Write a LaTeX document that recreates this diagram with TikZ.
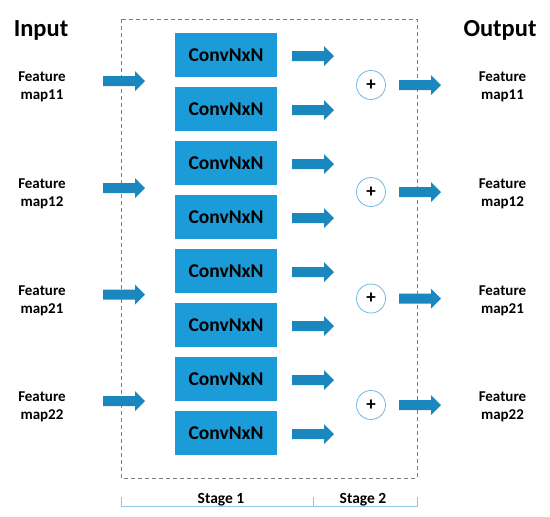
\documentclass[tikz,border=0pt]{standalone}
\usepackage{fontspec}
\setmainfont{Carlito}
\begin{document}
\begin{tikzpicture}[x=1pt,y=-1pt,
  convbox/.style={rectangle, fill={rgb,255:red,27;green,155;blue,215}, minimum width=102pt, minimum height=44pt, inner sep=0pt, font=\fontsize{19.5}{22}\selectfont\bfseries},
  lbl/.style={align=center, inner sep=0pt, font=\fontsize{15}{18.3}\selectfont\bfseries},
  title/.style={inner sep=0pt, anchor=base, font=\fontsize{24.5}{28}\selectfont\bfseries},
  stagelbl/.style={inner sep=0pt, anchor=base, font=\fontsize{15.5}{18}\selectfont\bfseries},
  plusnode/.style={circle, draw={rgb,255:red,110;green,185;blue,228}, line width=0.8pt, fill=white, minimum size=29pt, inner sep=0pt, font=\fontsize{19}{20}\selectfont\bfseries},
  barrow/.pic={\fill[fill={rgb,255:red,26;green,135;blue,191}] (0,-5) -- (32,-5) -- (32,-10) -- (42,0) -- (32,10) -- (32,5) -- (0,5) -- cycle;},
  bracket/.style={draw={rgb,255:red,140;green,198;blue,236}, line width=0.9pt}
]
\useasboundingbox (0,0) rectangle (550,517);
\fill[white] (0,0) rectangle (550,517);

% dashed frame
\draw[draw={rgb,255:red,125;green,125;blue,125}, line width=0.8pt, dash pattern=on 4pt off 3pt] (121,19) rectangle (417,478);

% titles
\node[title] (input) at (41,36) {Input};
\node[title] (output) at (500,36) {Output};

% conv boxes and their arrows
\foreach \i in {0,...,7}{
  \pgfmathsetmacro{\yy}{55+54*\i}
  \node[convbox] (conv\i) at (226,\yy) {ConvNxN};
  \pic (carrow\i) at (292,\yy+1) {barrow};
}

% plus nodes, input/output arrows and labels
\foreach \j/\yc/\name in {0/85/map11, 1/192/map12, 2/298.5/map21, 3/405/map22}{
  \node[plusnode] (plus\j) at (371,\yc) {+};
  \pic (inarrow\j) at (103,\yc-4) {barrow};
  \pic (outarrow\j) at (399,\yc) {barrow};
  \node[lbl] (inlbl\j) at (42,\yc+2) {Feature\\\name};
  \node[lbl] (outlbl\j) at (502.5,\yc+2) {Feature\\\name};
}

% stage bracket
\draw[bracket] (121,497) -- (121,506) -- (417,506) -- (417,497);
\draw[bracket] (313,497) -- (313,506);
\node[stagelbl] (stage1) at (221,503) {Stage 1};
\node[stagelbl] (stage2) at (363,503) {Stage 2};
\end{tikzpicture}
\end{document}
